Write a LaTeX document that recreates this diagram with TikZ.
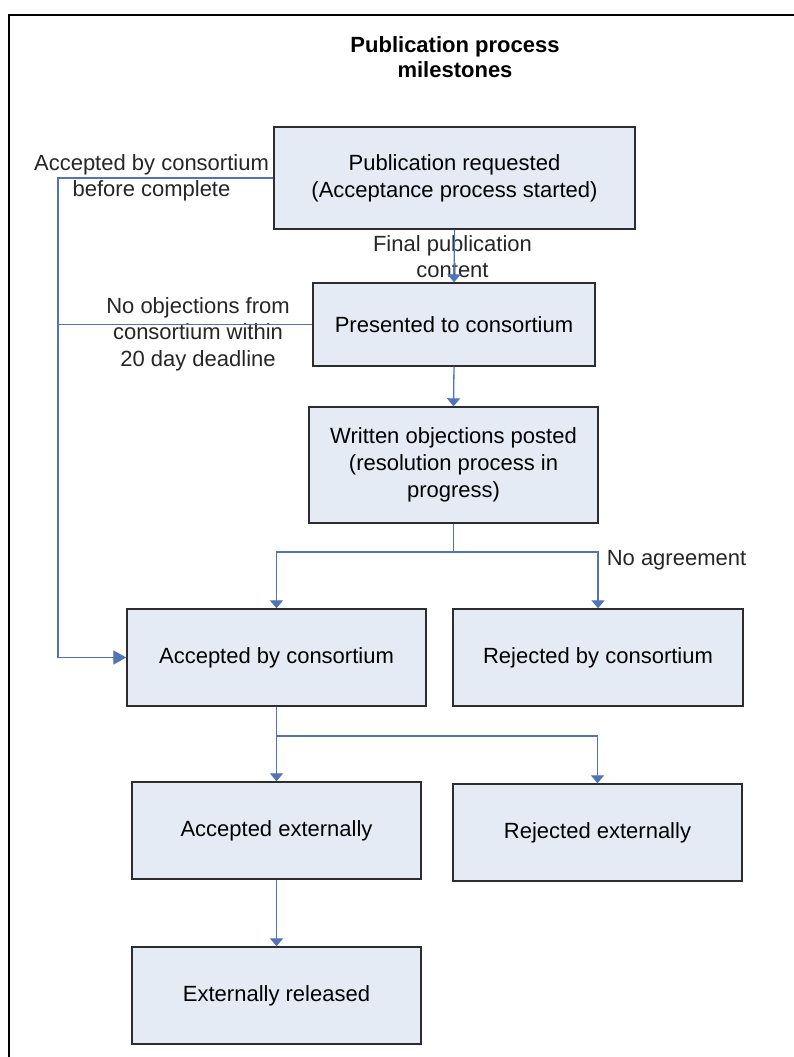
\documentclass[tikz,border=0pt]{standalone}
\usepackage{fontspec}
\setmainfont{Liberation Sans}
\usetikzlibrary{arrows.meta}
\definecolor{boxfill}{RGB}{229,235,245}
\definecolor{boxline}{RGB}{45,45,45}
\definecolor{connblue}{RGB}{80,115,185}
\tikzset{
  stagebox/.style={draw=boxline, line width=1.4pt, fill=boxfill, rectangle, inner sep=0pt,
    align=center, font=\fontsize{22}{27}\selectfont},
  lbl/.style={inner sep=0pt, align=center, font=\fontsize{22}{26.5}\selectfont, text=black!85},
  conn/.style={draw=connblue, line width=1.3pt},
  darr/.style={conn, -{Triangle[length=8pt,width=13pt]}},
  sarr/.style={conn, -{Triangle[length=13pt,width=14pt]}}
}
\begin{document}
\begin{tikzpicture}[x=1pt,y=-1pt]
\useasboundingbox (0,0) rectangle (794,1057);
\clip (0,0) rectangle (794,1057);
\fill[white] (0,0) rectangle (794,1057);
% outer frame
\draw[line width=1.5pt, black] (9,1070) -- (9,15) -- (810,15);
% title
\node[inner sep=0pt, align=center, font=\fontsize{22}{25}\bfseries\selectfont] (title) at (455,57.5) {Publication process\\milestones};
% boxes
\node[stagebox, minimum width=361pt, minimum height=102pt] (b1) at (454.5,178) {Publication requested\\(Acceptance process started)};
\node[stagebox, minimum width=282pt, minimum height=83pt] (b2) at (454,324.5) {Presented to consortium};
\node[stagebox, minimum width=289pt, minimum height=116pt] (b3) at (453.5,465) {Written objections posted\\(resolution process in\\progress)};
\node[stagebox, minimum width=299pt, minimum height=97pt] (b4) at (276.5,657.5) {Accepted by consortium};
\node[stagebox, minimum width=290pt, minimum height=97pt] (b5) at (598,657.5) {Rejected by consortium};
\node[stagebox, minimum width=289pt, minimum height=97pt] (b6) at (276.5,830.5) {Accepted externally};
\node[stagebox, minimum width=289pt, minimum height=97pt] (b7) at (597.5,832.5) {Rejected externally};
\node[stagebox, minimum width=289pt, minimum height=97pt] (b8) at (276.5,995.5) {Externally released};
% labels
\node[lbl] (l1) at (151.5,178) {Accepted by consortium\\before complete};
\node[lbl] (l2) at (452.5,256.5) {Final publication\\content};
\node[lbl] (l3) at (198,334) {No objections from\\consortium within\\20 day deadline};
\node[lbl] (l4) at (676.5,560) {No agreement};
% junctions
\coordinate (lft) at (58,0);
\coordinate (j1) at (453.5,552);
\coordinate (j2) at (276.5,736);
% connectors
\draw[sarr] (b1.west) -- (b1.west -| lft) |- (b4.west);
\draw[conn] (b2.west) -- (b2.west -| lft);
\draw[darr] (b1.south) -- (b2.north);
\draw[darr] (b2.south) -- (b3.north);
\draw[conn] (b3.south) -- (j1);
\draw[darr] (j1) -| (b4.north);
\draw[darr] (j1) -| (b5.north);
\draw[conn] (b4.south) -- (j2);
\draw[darr] (j2) -- (b6.north);
\draw[darr] (j2) -| (b7.north);
\draw[darr] (b6.south) -- (b8.north);
\end{tikzpicture}
\end{document}
